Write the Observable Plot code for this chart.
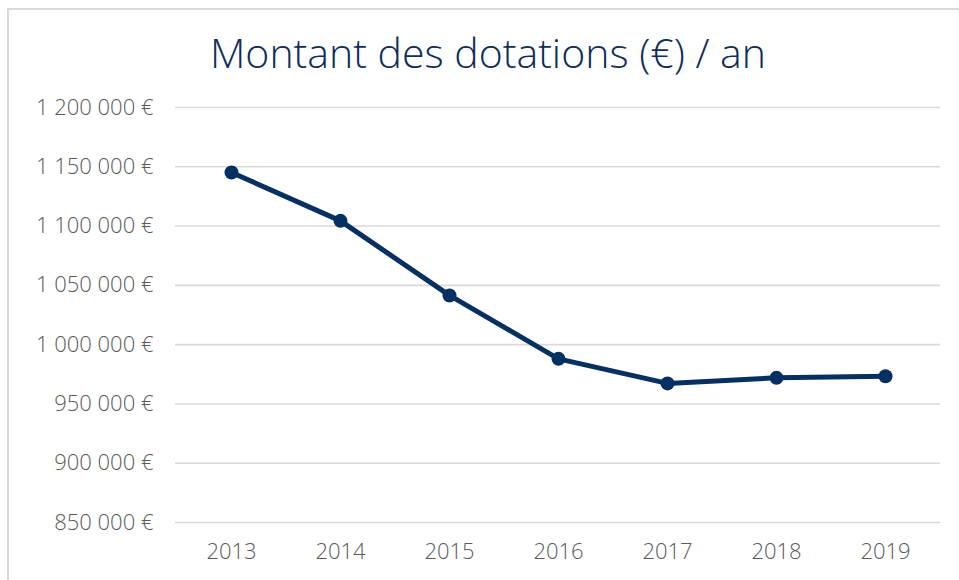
<!DOCTYPE html>
<html>
<head>
<meta charset="utf-8">
<script src="https://cdn.jsdelivr.net/npm/d3@7"></script>
<script src="https://cdn.jsdelivr.net/npm/@observablehq/plot@0.6"></script>
<style>
  html, body { margin: 0; padding: 0; background: #fff; }
  #wrap { position: relative; width: 959px; height: 580px; overflow: hidden; font-family: "Open Sans", Lato, sans-serif; font-variant-ligatures: none; }
  #frame { position: absolute; left: 7px; top: 8px; width: 1000px; height: 1000px; border: 2px solid #d9d9d9; box-sizing: border-box; }
  #title { position: absolute; left: 0; top: 27px; width: 976px; text-align: center; font-size: 41px; color: #0d2d5a; font-weight: 300; line-height: 50px; }
  #chart { position: absolute; left: 0; top: 0; }
</style>
</head>
<body>
<div id="wrap">
  <div id="frame"></div>
  <div id="title">Montant des dotations (€) / an</div>
  <div id="chart"></div>
</div>
<script>
const years = ["2013", "2014", "2015", "2016", "2017", "2018", "2019"];
const amounts = [1145200, 1104400, 1041500, 988000, 967300, 972000, 973400];
const yTicks = [850000, 900000, 950000, 1000000, 1050000, 1100000, 1150000, 1200000];

const data = years.map((y, i) => ({year: y, amount: amounts[i]}));
const fmt = d => d3.format(",")(d).replace(/,/g, " ") + " €";
const navy = "#062f62";

const chart = Plot.plot({
  width: 959,
  height: 580,
  marginTop: 107,
  marginBottom: 58,
  marginLeft: 175,
  marginRight: 19,
  style: {fontFamily: "'Open Sans', Lato, sans-serif", fontSize: "22px", fontWeight: 300, color: "#595959", background: "transparent"},
  x: {type: "point", domain: years, padding: 0.5, label: null, tickSize: 0, tickPadding: 21},
  y: {domain: [850000, 1200000], ticks: yTicks, tickFormat: fmt, label: null, tickSize: 0, tickPadding: 22},
  marks: [
    Plot.gridY(yTicks, {stroke: "#d9d9d9", strokeOpacity: 1, strokeWidth: 1.6}),
    Plot.line(data, {x: "year", y: "amount", stroke: navy, strokeWidth: 5}),
    Plot.dot(data, {x: "year", y: "amount", fill: navy, r: 7})
  ]
});
document.getElementById("chart").appendChild(chart);
</script>
</body>
</html>
